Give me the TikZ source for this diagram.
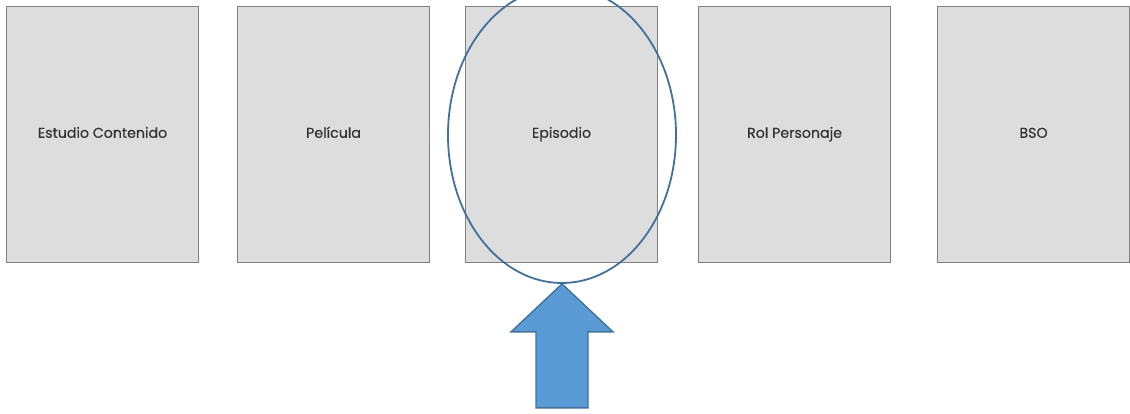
\documentclass[tikz,border=0pt]{standalone}
\usepackage{fontspec}
\setmainfont{Poppins}[FakeBold=0.4]
\usetikzlibrary{shapes.geometric}
\definecolor{boxfill}{HTML}{DDDDDD}
\definecolor{boxline}{HTML}{808080}
\definecolor{hlline}{HTML}{41719C}
\definecolor{arrowfill}{HTML}{5B9BD5}
\definecolor{labeltext}{HTML}{333333}
\begin{document}
\begin{tikzpicture}[x=1pt,y=-1pt,
  card/.style={draw=boxline,fill=boxfill,line width=1.1pt,minimum width=192pt,minimum height=256pt,inner sep=0pt,anchor=north west,font=\fontsize{14.2}{16}\selectfont,text=labeltext,text height=10pt,text depth=3.5pt},
  hl/.style={draw=hlline,line width=1.8pt,ellipse,minimum width=228pt,minimum height=296pt,inner sep=0pt},
  blockarrow/.style={draw=hlline,fill=arrowfill,line width=1.4pt,line join=miter}]
\useasboundingbox (0,0) rectangle (1130,414);
\node[card] (c1) at (6,6) {Estudio Contenido};
\node[card] (c2) at (237,6) {Película};
\node[card] (c3) at (465,6) {Episodio};
\node[card] (c4) at (698,6) {Rol Personaje};
\node[card] (c5) at (937,6) {BSO};
\node[hl] (sel) at (562,135) {};
\coordinate (tip) at (sel.south);
\draw[blockarrow] (tip) -- ++(51,48) -- ++(-25,0) -- ++(0,76) -- ++(-52,0) -- ++(0,-76) -- ++(-25,0) -- cycle;
\end{tikzpicture}
\end{document}
